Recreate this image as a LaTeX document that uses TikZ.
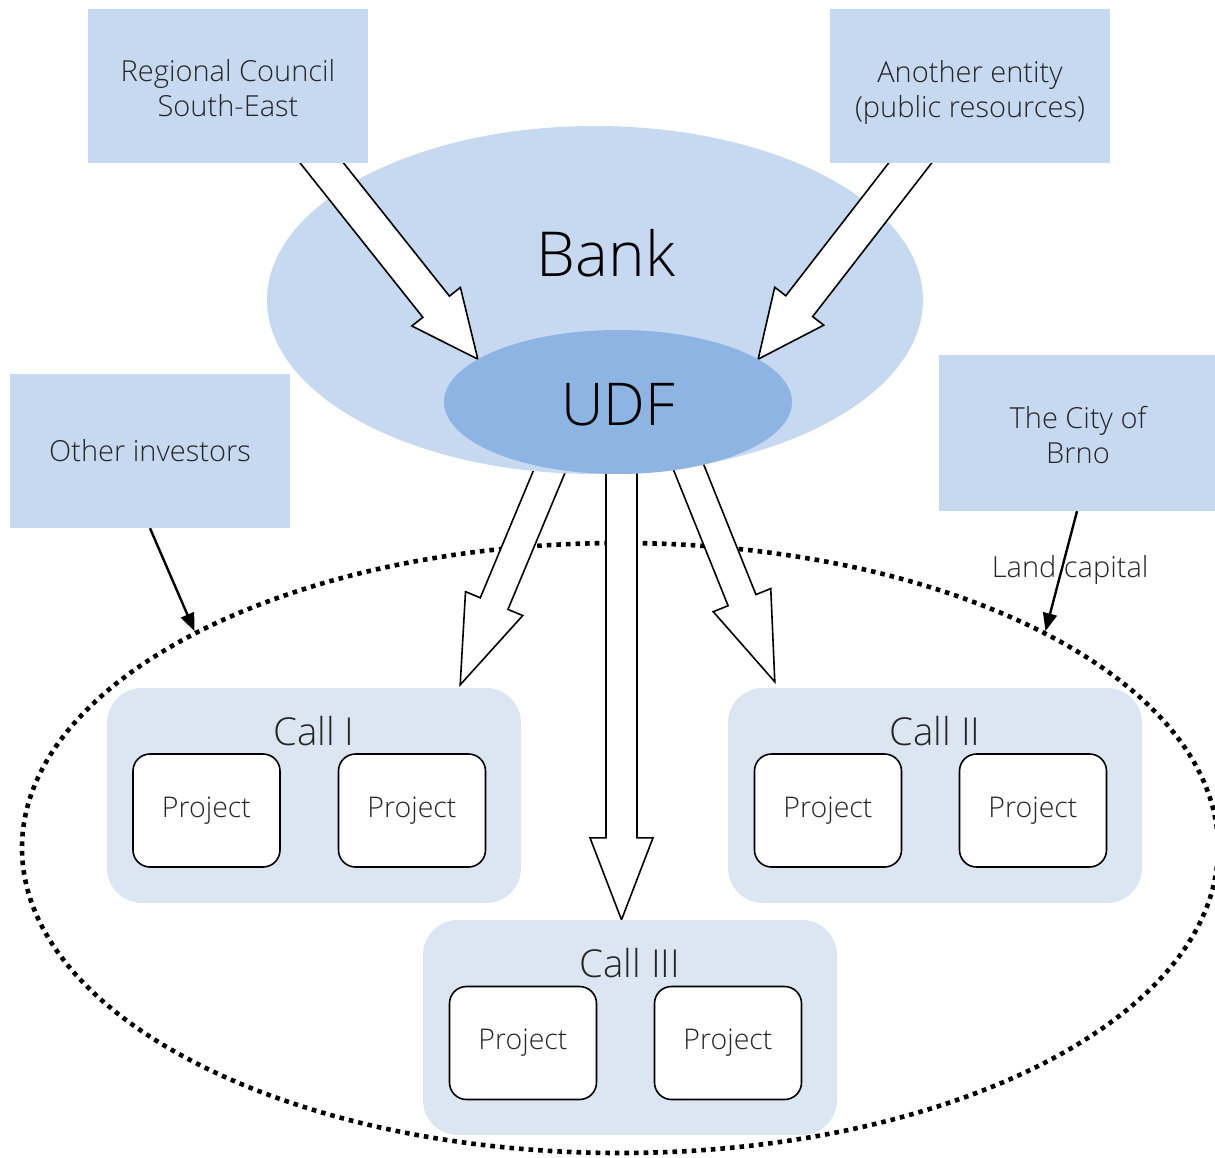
\documentclass[tikz,border=0pt]{standalone}
\usepackage{fontspec}
\setmainfont{Open Sans Light}
\usetikzlibrary{calc,shapes.geometric,arrows.meta}
\pgfdeclarelayer{bg}
\pgfdeclarelayer{mid}
\pgfdeclarelayer{front}
\pgfsetlayers{bg,main,mid,front}

\definecolor{bankblue}{HTML}{C6D9F1}
\definecolor{udfblue}{HTML}{8EB4E3}
\definecolor{callblue}{HTML}{DCE6F2}
\definecolor{ink}{HTML}{262626}

\tikzset{
  srcbox/.style={fill=bankblue, minimum width=280pt, minimum height=154pt, inner sep=0pt,
    align=center, font=\fontsize{29}{35}\selectfont, text=ink},
  callbox/.style={fill=callblue, rounded corners=35pt, minimum width=414pt, minimum height=215pt, inner sep=0pt},
  calllbl/.style={font=\fontsize{38.5}{40}\selectfont, text=ink, inner sep=0pt},
  projbox/.style={draw=black, line width=1.6pt, fill=white, rounded corners=17pt,
    minimum width=147pt, minimum height=113pt, inner sep=0pt, font=\fontsize{28.5}{32}\selectfont, text=ink},
  bigel/.style={ellipse, inner sep=0pt, font=\fontsize{59}{66}\selectfont, text=black},
  blockarrow/.style={draw=black, line width=1.6pt, fill=white, line join=miter},
  thinarrow/.style={draw=black, line width=2.4pt, -{Triangle[length=18pt,width=14pt]}},
  pool/.style={ellipse, draw=black, line width=4.6pt, dash pattern=on 4.6pt off 5pt,
    minimum width=1196pt, minimum height=610pt, inner sep=0pt},
  lbl/.style={font=\fontsize{29}{32}\selectfont, text=ink},
}

% block arrow: [style]{start}{tip}{half shaft width}{half head width}{head length}
\newcommand\blockarrow[6][]{%
  \coordinate (ba-t) at #3;
  \coordinate (ba-s0) at #2;
  \coordinate (ba-s) at ($(ba-s0)!-40pt!(ba-t)$);
  \coordinate (ba-h) at ($(ba-t)!#6!(ba-s)$);
  \draw[blockarrow,#1] ($(ba-s)!#4!90:(ba-t)$) -- ($(ba-h)!#4!90:(ba-t)$)
    -- ($(ba-h)!#5!90:(ba-t)$) -- (ba-t) -- ($(ba-h)!#5!-90:(ba-t)$)
    -- ($(ba-h)!#4!-90:(ba-t)$) -- ($(ba-s)!#4!-90:(ba-t)$) -- cycle;
}

\begin{document}
\begin{tikzpicture}[x=1pt, y=-1pt]
  \useasboundingbox (0,0) rectangle (1215,1158);

  % dotted pool of projects
  \begin{pgfonlayer}{bg}
    \node[pool] (pool) at (620,848) {};
  \end{pgfonlayer}

  % bank and fund
  \node[bigel, fill=bankblue, minimum width=656pt, minimum height=348pt] (bank) at (595,300) {};
  \node[font=\fontsize{62}{70}\selectfont, text=black] (banklbl) at (606,253) {Bank};
  \begin{pgfonlayer}{mid}
    \node[bigel, fill=udfblue, minimum width=348pt, minimum height=144pt] (udf) at (618,402) {};
    \node[font=\fontsize{59}{66}\selectfont, text=black] (udflbl) at (618,405) {UDF};
  \end{pgfonlayer}

  % sources and calls
  \begin{pgfonlayer}{front}
    \node[srcbox] (rc)   at (228,86)   {};
    \node[srcbox, fill=none] (rclbl) at (228,88) {Regional Council\\South-East};
    \node[srcbox] (ae)   at (970,86)   {};
    \node[srcbox, fill=none] (aelbl) at (970,92) {Another entity\\(public resources)};
    \node[srcbox] (oi)   at (150,451)  {Other investors};
    \node[srcbox, minimum width=276pt, minimum height=156pt] (brno) at (1077,433) {};
    \node[srcbox, fill=none] (brnolbl) at (1078,435) {The City of\\Brno};

    \node[callbox] (c1) at (314,795.5) {};
    \node[callbox] (c2) at (935,795.5) {};
    \node[callbox] (c3) at (630,1027.5) {};
    \node[calllbl] (c1l) at ($(c1.north)+(0,43)$) {Call I};
    \node[calllbl] (c2l) at ($(c2.north)+(0,43)$) {Call II};
    \node[calllbl] (c3l) at ($(c3.north)+(0,43)$) {Call III};

    \node[projbox] (p11) at (206.5,810.5) {Project};
    \node[projbox] (p12) at (412,810.5)   {Project};
    \node[projbox] (p21) at (828,810.5)   {Project};
    \node[projbox] (p22) at (1033,810.5)  {Project};
    \node[projbox] (p31) at (523,1043)    {Project};
    \node[projbox] (p32) at (728,1043)    {Project};
  \end{pgfonlayer}

  % money flowing into the fund
  \blockarrow{($(rc.south)+(94,0)$)}{(udf.163)}{17pt}{31pt}{67pt}
  \blockarrow{($(ae.south)+(-60,0)$)}{(udf.17)}{17pt}{31pt}{67pt}

  % money flowing out to the calls
  \begin{pgfonlayer}{bg}
    \blockarrow{($(udf.south)+(-69,-2)$)}{($(c1.north east)+(-61,-3)$)}{15pt}{31pt}{88pt}
    \blockarrow{($(udf.south)+(71,-6)$)}{($(c2.north west)+(47,-6)$)}{15pt}{31pt}{88pt}
    \blockarrow{($(udf.south)+(3.5,0)$)}{($(c3.north)+(-8.5,0)$)}{15.5pt}{31.5pt}{82pt}
  \end{pgfonlayer}

  % other contributions
  \draw[thinarrow] (oi.south) -- (pool.153);
  \draw[thinarrow] (brno.south) -- node[lbl, pos=0.47, xshift=8pt, yshift=-2pt] (land) {Land capital} (pool.27);
\end{tikzpicture}
\end{document}
